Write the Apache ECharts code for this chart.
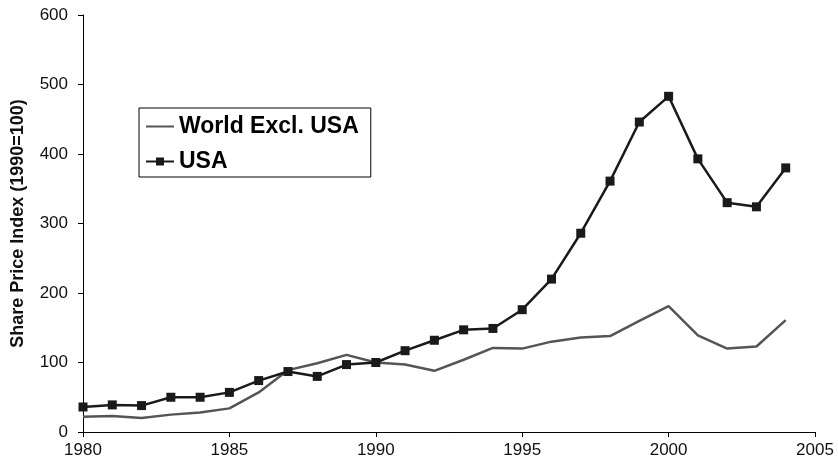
<!DOCTYPE html>
<html>
<head>
<meta charset="utf-8">
<script src="https://cdn.jsdelivr.net/npm/echarts@6/dist/echarts.min.js"></script>
<style>
html, body { margin: 0; padding: 0; background: #fff; }
#chart { width: 838px; height: 469px; }
</style>
</head>
<body>
<div id="chart"></div>
<script>
// Share price indices, 1990 = 100
const years = [1980, 1981, 1982, 1983, 1984, 1985, 1986, 1987, 1988, 1989,
               1990, 1991, 1992, 1993, 1994, 1995, 1996, 1997, 1998, 1999,
               2000, 2001, 2002, 2003, 2004];
const worldExclUSA = [22, 23, 20, 25, 28, 34, 57, 89, 99, 111,
                      100, 97, 88, 104, 121, 120, 130, 136, 138, 160,
                      181, 139, 120, 123, 161];
const usa = [36, 39, 38, 50, 50, 57, 74, 87, 80, 97,
             100, 117, 132, 147, 149, 176, 220, 286, 361, 446,
             483, 393, 330, 324, 380];
const xTicks = [1980, 1985, 1990, 1995, 2000, 2005];
const yTicks = [0, 100, 200, 300, 400, 500, 600];

const pairs = (vals) => years.map((y, i) => [y, vals[i]]);

const font = 'Liberation Sans, Arial, sans-serif';
const chart = echarts.init(document.getElementById('chart'));
chart.setOption({
  animation: false,
  backgroundColor: '#fff',
  grid: { left: 83, right: 23, top: 15, bottom: 37, containLabel: false },
  xAxis: {
    type: 'value',
    min: xTicks[0],
    max: xTicks[xTicks.length - 1],
    interval: 5,
    axisLine: { show: true, lineStyle: { color: '#000', width: 1 } },
    axisTick: { show: true, length: 5, lineStyle: { color: '#000' } },
    splitLine: { show: false },
    axisLabel: { color: '#111', fontSize: 17, fontFamily: font, margin: 10, formatter: (v) => String(v) }
  },
  yAxis: {
    type: 'value',
    min: yTicks[0],
    max: yTicks[yTicks.length - 1],
    interval: 100,
    name: 'Share Price Index (1990=100)',
    nameLocation: 'middle',
    nameGap: 56,
    nameTextStyle: { color: '#111', fontSize: 18, fontWeight: 'bold', fontFamily: font },
    axisLine: { show: true, lineStyle: { color: '#000', width: 1 } },
    axisTick: { show: true, length: 5, lineStyle: { color: '#000' } },
    splitLine: { show: false },
    axisLabel: { color: '#111', fontSize: 17, fontFamily: font, margin: 15, formatter: (v) => String(v) }
  },
  legend: {
    orient: 'vertical',
    left: 139,
    top: 108,
    padding: [7, 12, 4, 6],
    itemGap: 12,
    itemWidth: 28,
    itemHeight: 10,
    borderColor: '#000',
    borderWidth: 1,
    textStyle: { color: '#000', fontSize: 23, fontWeight: 'bold', fontFamily: font },
    data: [
      { name: 'World Excl. USA', itemStyle: { opacity: 0 } },
      { name: 'USA' }
    ]
  },
  series: [
    {
      name: 'World Excl. USA',
      type: 'line',
      data: pairs(worldExclUSA),
      symbol: 'none',
      lineStyle: { color: '#555', width: 2.5 },
      itemStyle: { color: '#555' },
      z: 2
    },
    {
      name: 'USA',
      type: 'line',
      data: pairs(usa),
      symbol: 'rect',
      symbolSize: 9,
      lineStyle: { color: '#1a1a1a', width: 2.5 },
      itemStyle: { color: '#1a1a1a' },
      z: 3
    }
  ]
});
</script>
</body>
</html>
